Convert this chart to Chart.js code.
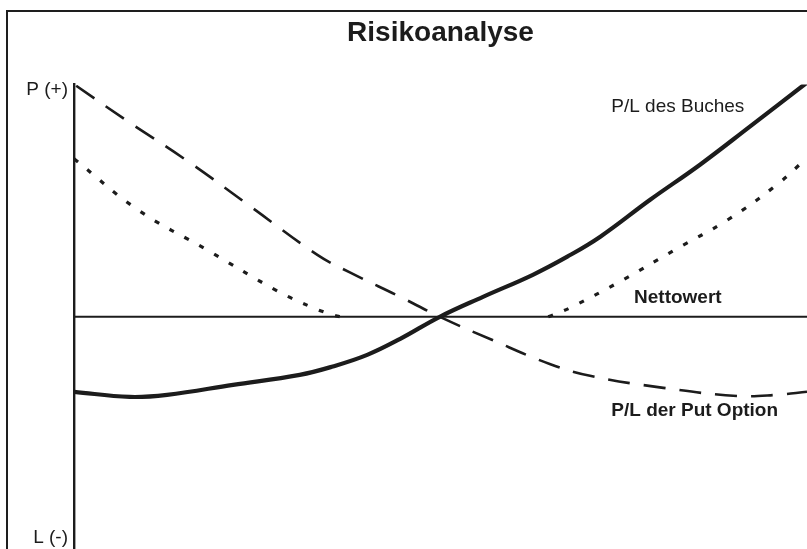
<!DOCTYPE html>
<html>
<head>
<meta charset="utf-8">
<script src="https://cdn.jsdelivr.net/npm/chart.js@4/dist/chart.umd.min.js"></script>
<style>
  html, body { margin:0; padding:0; background:#fff; overflow:hidden; }
  #wrap { position:relative; width:807px; height:549px; overflow:hidden; }
  #frame { position:absolute; left:6px; top:10px; width:900px; height:700px;
           border-left:2px solid #1e1e1e; border-top:2px solid #1e1e1e; }
  #risk { position:absolute; left:0; top:0; }
</style>
</head>
<body>
<div id="wrap">
  <div id="frame"></div>
  <canvas id="risk" width="807" height="549"></canvas>
</div>
<script>
// Risikoanalyse - values
// x: underlying price (0..100), y: profit/loss (-100..100)
const buchX = [0, 7.6, 12.7, 21.7, 30.8, 35.3, 40, 44.5, 49.9, 55.8, 62.6, 67.3, 71.8, 78.6, 85.4, 92.2, 100];
const buchY = [-32.3, -34.5, -33.6, -29.3, -25, -21.4, -16.4, -9.5, 0, 8.6, 18.1, 25.9, 34.5, 50.4, 65.5, 81.9, 100.9];

const putX = [0.3, 7, 15.8, 24.3, 33.2, 37.7, 44.5, 49.9, 57, 64.9, 70.4, 80.4, 90.5, 95.9, 100];
const putY = [99.5, 84.9, 66.4, 47, 26.7, 19, 8.6, 0, -9.9, -20.3, -25.4, -30.6, -34.1, -33.6, -32.3];

// the flat part of the net curve lies under the zero line, so it is left out
const nettoX = [0, 8.7, 18.1, 27.7, 32.6, 35.2, 36.3, 50, 64.7, 67.7, 74.9, 82, 89.2, 95.9, 100];
const nettoY = [68.1, 46.1, 28.9, 11.2, 3.9, 0.9, 0, null, 0, 3.9, 15.9, 28.9, 41.8, 56.9, 68.5];

const zeroX = [0, 100];
const zeroY = [0, 0];

const yTickValues = [97.8, -95.3];
const yTickLabels = ["P (+)", "L (-)"];

const titleText = "Risikoanalyse";
const labelTexts = ["P/L des Buches", "Nettowert", "P/L der Put Option"];

const ink = "#1c1c1c";
const FONT = "'Liberation Sans', Arial, sans-serif";

function pts(xs, ys){ return xs.map((x,i)=>({x:x, y:ys[i]})); }

// text labels next to the curves (placed in data coordinates)
const curveLabels = {
  id: "curveLabels",
  afterDatasetsDraw(chart){
    const {ctx, scales:{x, y}} = chart;
    const spots = [
      {t: labelTexts[0], x: 73.3, y: 90.5, bold: false},
      {t: labelTexts[1], x: 76.4, y: 8.2,  bold: true},
      {t: labelTexts[2], x: 73.3, y: -40.5, bold: true}
    ];
    ctx.save();
    ctx.fillStyle = ink;
    ctx.textAlign = "left";
    ctx.textBaseline = "middle";
    spots.forEach(s=>{
      ctx.font = (s.bold ? "bold " : "") + "19px " + FONT;
      ctx.fillText(s.t, x.getPixelForValue(s.x), y.getPixelForValue(s.y));
    });
    ctx.restore();
  }
};

new Chart(document.getElementById("risk").getContext("2d"), {
  type: "line",
  data: {
    datasets: [
      { label: labelTexts[0], data: pts(buchX, buchY), borderColor: ink, borderWidth: 4.2,
        tension: 0.4, pointRadius: 0, borderCapStyle: "round" },
      { label: labelTexts[1], data: pts(zeroX, zeroY), borderColor: ink, borderWidth: 2,
        tension: 0, pointRadius: 0 },
      { label: labelTexts[2], data: pts(putX, putY), borderColor: ink, borderWidth: 2.6,
        borderDash: [22, 14], tension: 0.4, pointRadius: 0 },
      { label: "Netto", data: pts(nettoX, nettoY), borderColor: ink, borderWidth: 3.2,
        borderDash: [5, 12], tension: 0.4, pointRadius: 0, spanGaps: false }
    ]
  },
  options: {
    responsive: false,
    animation: false,
    layout: { padding: 0 },
    plugins: {
      legend: { display: false },
      tooltip: { enabled: false },
      title: {
        display: true,
        text: titleText,
        fullSize: false,
        color: ink,
        font: { family: FONT, size: 28, weight: "bold" },
        padding: { top: 16, bottom: 35 }
      }
    },
    scales: {
      x: { type: "linear", min: 0, max: 100, display: false },
      y: {
        type: "linear", min: -100, max: 100,
        grid: { display: false, drawTicks: false },
        border: { display: true, color: ink, width: 2.4 },
        afterBuildTicks: axis => { axis.ticks = yTickValues.map(v => ({value: v})); },
        afterFit: axis => { axis.width = 74; axis.paddingTop = 0; axis.paddingBottom = 0; },
        ticks: {
          color: ink, padding: 6,
          font: { family: FONT, size: 19 },
          callback: (v, i) => yTickLabels[i]
        }
      }
    }
  },
  plugins: [curveLabels]
});
</script>
</body>
</html>
